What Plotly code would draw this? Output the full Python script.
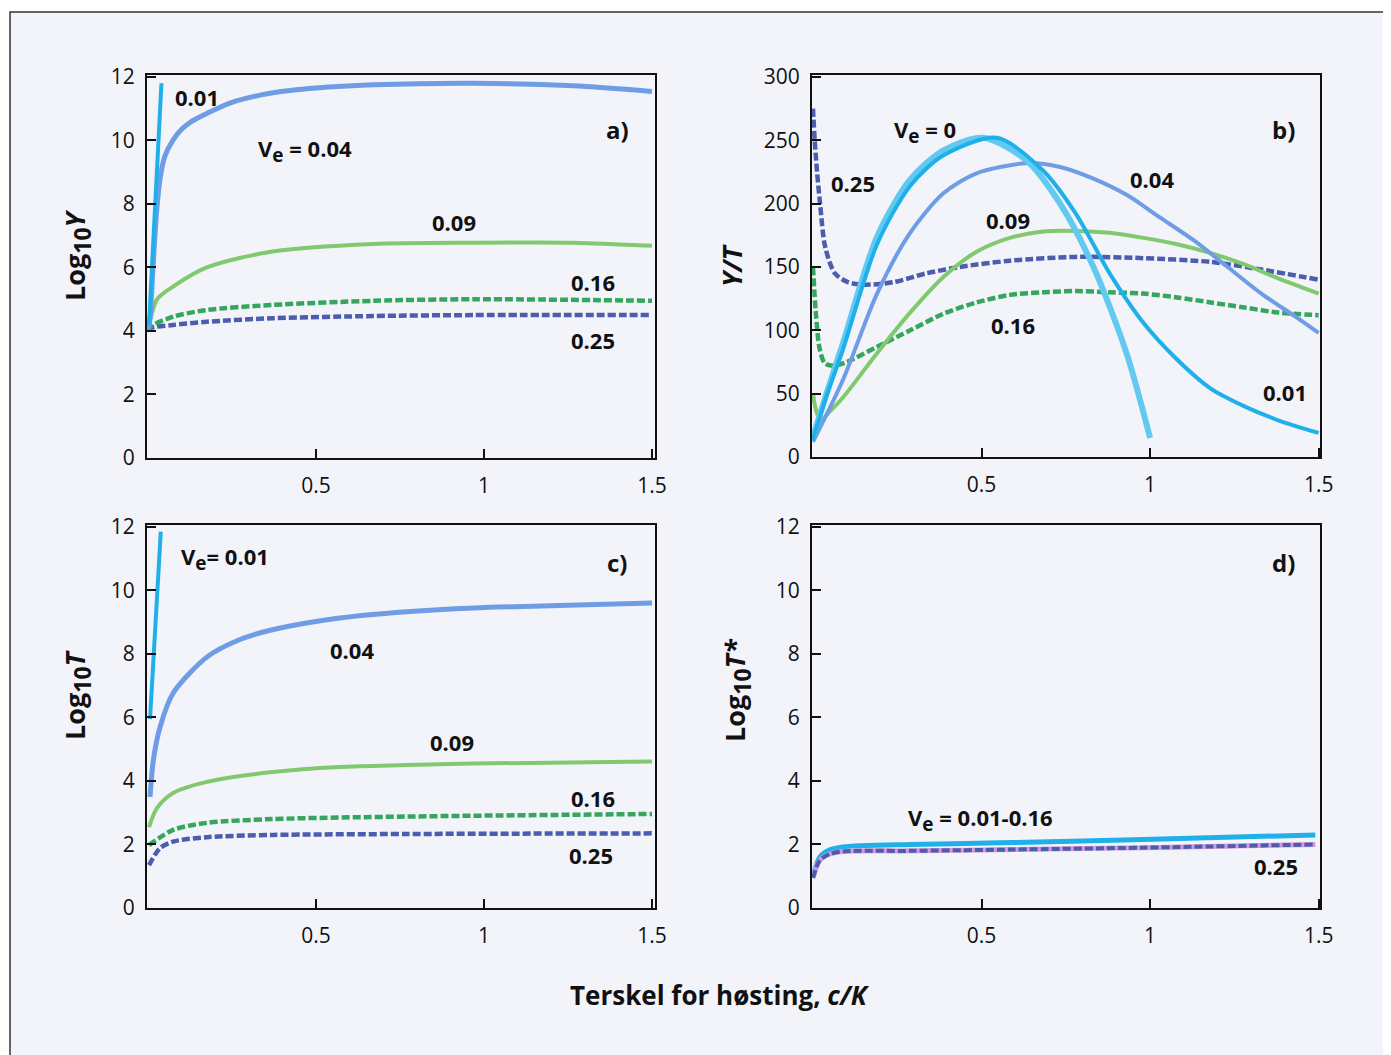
import plotly.graph_objects as go

W, H = 1391, 1055
OFF = 8  # page body margin in the browser

# ---------------- data ----------------
# Panel a: Log10 Y vs c/K
a_x_001 = [0.003, 0.040]
a_y_001 = [4.2, 11.8]
a_x_004 = [0, 0.006, 0.016, 0.026, 0.036, 0.05, 0.074, 0.1, 0.13, 0.175, 0.25, 0.372, 0.5, 0.67, 0.967, 1.265, 1.5]
a_y_004 = [4.0, 4.4, 6.2, 7.8, 8.8, 9.5, 10.0, 10.35, 10.6, 10.85, 11.2, 11.5, 11.65, 11.75, 11.8, 11.72, 11.54]
a_x_009 = [0, 0.01, 0.027, 0.075, 0.175, 0.37, 0.67, 0.97, 1.265, 1.5]
a_y_009 = [4.1, 4.5, 5.0, 5.4, 6.0, 6.5, 6.74, 6.78, 6.78, 6.68]
a_x_016 = [0, 0.006, 0.075, 0.175, 0.37, 0.67, 0.97, 1.5]
a_y_016 = [4.0, 4.13, 4.45, 4.66, 4.82, 4.95, 5.0, 4.95]
a_x_025 = [0, 0.006, 0.075, 0.175, 0.37, 0.67, 0.97, 1.5]
a_y_025 = [4.0, 4.09, 4.19, 4.29, 4.4, 4.47, 4.5, 4.5]

# Panel b: Y/T vs c/K
b_x_0 = [0, 0.04, 0.089, 0.19, 0.288, 0.386, 0.505, 0.634, 0.733, 0.832, 0.93, 1.0]
b_y_0 = [16, 50, 90, 174, 219, 242, 252, 234, 200, 150, 82, 15]
b_x_001 = [0, 0.04, 0.089, 0.19, 0.288, 0.386, 0.545, 0.683, 0.78, 0.88, 0.98, 1.08, 1.18, 1.28, 1.38, 1.5]
b_y_001 = [14, 48, 85, 168, 214, 238, 252, 226, 192, 145, 106, 77, 54, 40, 29, 19]
b_x_004 = [0, 0.089, 0.19, 0.288, 0.386, 0.485, 0.634, 0.733, 0.83, 0.93, 1.03, 1.13, 1.23, 1.33, 1.43, 1.5]
b_y_004 = [12, 61, 129, 177, 208, 224, 232, 229, 220, 207, 189, 171, 150, 129, 111, 98]
b_x_009 = [0, 0.008, 0.022, 0.05, 0.089, 0.19, 0.288, 0.386, 0.485, 0.584, 0.683, 0.78, 0.88, 0.98, 1.08, 1.18, 1.28, 1.38, 1.5]
b_y_009 = [50, 38, 29, 36, 47, 82, 114, 142, 162, 173, 178, 178.5, 177, 173, 168, 161, 152, 141, 129]
b_x_016 = [0, 0.008, 0.02, 0.035, 0.06, 0.1, 0.19, 0.288, 0.386, 0.485, 0.584, 0.683, 0.78, 0.88, 0.98, 1.08, 1.18, 1.28, 1.38, 1.5]
b_y_016 = [150, 115, 85, 74, 72, 75, 87, 100, 113, 122, 128, 130, 131, 130, 129, 126, 122, 118, 114, 112]
b_x_025 = [0, 0.005, 0.012, 0.021, 0.036, 0.065, 0.104, 0.15, 0.238, 0.336, 0.435, 0.584, 0.78, 0.98, 1.18, 1.33, 1.5]
b_y_025 = [275, 250, 225, 200, 166, 145, 138, 136, 138, 145, 150, 155, 158, 157, 154, 148, 140]

# Panel c: Log10 T vs c/K
c_x_001 = [0.006, 0.038]
c_y_001 = [5.95, 11.85]
c_x_004 = [0.006, 0.016, 0.036, 0.075, 0.175, 0.27, 0.37, 0.57, 0.77, 0.97, 1.17, 1.5]
c_y_004 = [3.5, 4.66, 5.7, 6.77, 7.9, 8.44, 8.76, 9.13, 9.33, 9.45, 9.51, 9.6]
c_x_009 = [0.003, 0.027, 0.075, 0.175, 0.37, 0.57, 0.77, 0.97, 1.5]
c_y_009 = [2.55, 3.15, 3.62, 3.97, 4.28, 4.44, 4.5, 4.55, 4.61]
c_x_016 = [0.003, 0.075, 0.175, 0.37, 0.77, 1.5]
c_y_016 = [1.98, 2.46, 2.68, 2.8, 2.88, 2.96]
c_x_025 = [0.003, 0.036, 0.075, 0.175, 0.37, 0.77, 1.5]
c_y_025 = [1.35, 1.89, 2.09, 2.23, 2.3, 2.33, 2.35]

# Panel d: Log10 T* vs c/K
d_x_low = [0, 0.02, 0.05, 0.089, 0.29, 0.59, 0.98, 1.49]
d_y_low = [0.98, 1.6, 1.83, 1.92, 2.0, 2.06, 2.16, 2.3]
d_x_025 = [0, 0.02, 0.05, 0.089, 0.29, 0.59, 0.98, 1.49]
d_y_025 = [0.95, 1.5, 1.7, 1.78, 1.8, 1.84, 1.9, 2.0]

x_tickvals = [0.5, 1, 1.5]
x_ticktext = ["0.5", "1", "1.5"]
y_tickvals_log = [0, 2, 4, 6, 8, 10, 12]
y_tickvals_b = [0, 50, 100, 150, 200, 250, 300]

# ---------------- styles ----------------
C0 = "#62c9f0"
C001 = "#1fb0ea"
C004 = "#6e9de6"
C009 = "#80c96e"
C016 = "#36a65e"
C025 = "#4c5cae"
FONT = "Open Sans"
BG = "#f3f4fa"
DASH = "8px,3px"


def px(x):
    return (x - OFF) / W


def py(y):
    return 1 - (y - OFF) / H


fig = go.Figure()


def add(xs, ys, color, width, axis, dash=None, shape="spline"):
    fig.add_trace(go.Scatter(
        x=xs, y=ys, mode="lines",
        line=dict(color=color, width=width, dash=dash, shape=shape, smoothing=0.8),
        xaxis="x" + axis, yaxis="y" + axis, showlegend=False, hoverinfo="skip"))


# panel a (axis 1)
add(a_x_025, a_y_025, C025, 4.5, "", DASH)
add(a_x_016, a_y_016, C016, 4.5, "", DASH)
add(a_x_009, a_y_009, C009, 4, "")
add(a_x_004, a_y_004, C004, 5, "")
add(a_x_001, a_y_001, C001, 4, "", shape="linear")

# panel b (axis 2)
add(b_x_025, b_y_025, C025, 4.5, "2", DASH)
add(b_x_016, b_y_016, C016, 4.5, "2", DASH)
add(b_x_009, b_y_009, C009, 4, "2")
add(b_x_004, b_y_004, C004, 4, "2")
add(b_x_0, b_y_0, C0, 6, "2")
add(b_x_001, b_y_001, C001, 4, "2")

# panel c (axis 3)
add(c_x_025, c_y_025, C025, 4.5, "3", DASH)
add(c_x_016, c_y_016, C016, 4.5, "3", DASH)
add(c_x_009, c_y_009, C009, 4, "3")
add(c_x_004, c_y_004, C004, 5, "3")
add(c_x_001, c_y_001, C001, 4, "3", shape="linear")

# panel d (axis 4)
add(d_x_low, d_y_low, C001, 5, "4")
add(d_x_025, d_y_025, "#d49ad8", 5, "4")
add(d_x_025, d_y_025, C025, 4, "4", DASH)

# ---------------- axes ----------------
panels = {
    "": dict(l=147, r=655, t=75, b=458, yr=[0, 12.06], yt=y_tickvals_log, xr=[-0.003, 1.509]),
    "2": dict(l=812, r=1320, t=75, b=457, yr=[0, 301.6], yt=y_tickvals_b, xr=[-0.003, 1.504]),
    "3": dict(l=147, r=655, t=525, b=908, yr=[0, 12.06], yt=y_tickvals_log, xr=[-0.003, 1.509]),
    "4": dict(l=812, r=1320, t=525, b=908, yr=[0, 12.06], yt=y_tickvals_log, xr=[-0.003, 1.504]),
}
tickfont = dict(family=FONT, size=21, color="#111111")
layout_axes = {}
for k, p in panels.items():
    common = dict(showline=True, linecolor="#111111", linewidth=2, mirror=True,
                  ticks="inside", ticklen=9, tickwidth=2, tickcolor="#111111",
                  showgrid=False, zeroline=False, tickfont=tickfont, fixedrange=True,
                  automargin=False)
    layout_axes["xaxis" + k] = dict(
        domain=[px(p["l"]), px(p["r"])], range=p["xr"], anchor="y" + k,
        tickmode="array", tickvals=x_tickvals, ticktext=x_ticktext,
        ticklabelstandoff=8, **common)
    layout_axes["yaxis" + k] = dict(
        domain=[py(p["b"]), py(p["t"])], range=p["yr"], anchor="x" + k,
        tickmode="array", tickvals=p["yt"], ticklabelstandoff=6, **common)

fig.update_layout(**layout_axes)

# ---------------- annotations ----------------
ann = []
SUB = "<sub><span style='font-size:19px'>e</span></sub>"
SUB10 = "<sub><span style='font-size:23px'>10</span></sub>"


def label(text, x, y, size=22, angle=0):
    ann.append(dict(text=text, x=px(x), y=py(y), xref="paper", yref="paper",
                    showarrow=False, textangle=angle,
                    font=dict(family=FONT, size=size, color="#111111", weight="bold"),
                    xanchor="center", yanchor="middle"))


# panel a
label("0.01", 197, 97)
label("V" + SUB + " = 0.04", 305, 151)
label("0.09", 454, 222)
label("0.16", 593, 282)
label("0.25", 593, 340)
label("a)", 617, 130, 24)
# panel b
label("V" + SUB + " = 0", 925, 132)
label("0.25", 853, 183)
label("0.04", 1152, 179)
label("0.09", 1008, 220)
label("0.16", 1013, 325)
label("0.01", 1285, 392)
label("b)", 1283, 130, 24)
# panel c
label("V" + SUB + "= 0.01", 225, 558)
label("c)", 617, 562, 24)
label("0.04", 352, 650)
label("0.09", 452, 742)
label("0.16", 593, 798)
label("0.25", 591, 855)
# panel d
label("d)", 1283, 562, 24)
label("V" + SUB + " = 0.01-0.16", 980, 819)
label("0.25", 1276, 866)

# axis titles
label("Log" + SUB10 + "<i>Y</i>", 77, 255, 27, -90)
label("<i>Y/T</i>", 732, 265, 27, -90)
label("Log" + SUB10 + "<i>T</i>", 77, 695, 27, -90)
label("Log" + SUB10 + "<i>T*</i>", 737, 690, 27, -90)
label("Terskel for høsting, <i>c/K</i>", 720, 995, 26)

fig.update_layout(
    annotations=ann,
    width=W, height=H,
    autosize=False,
    margin=dict(l=0, r=0, t=0, b=0, pad=0, autoexpand=False),
    paper_bgcolor="white",
    plot_bgcolor=BG,
    shapes=[dict(type="rect", xref="paper", yref="paper",
                 x0=px(10), x1=px(W + 20), y0=py(H + 20), y1=py(12),
                 line=dict(color="#333333", width=1.5), fillcolor=BG, layer="below")],
)

fig.write_html("out.html")
